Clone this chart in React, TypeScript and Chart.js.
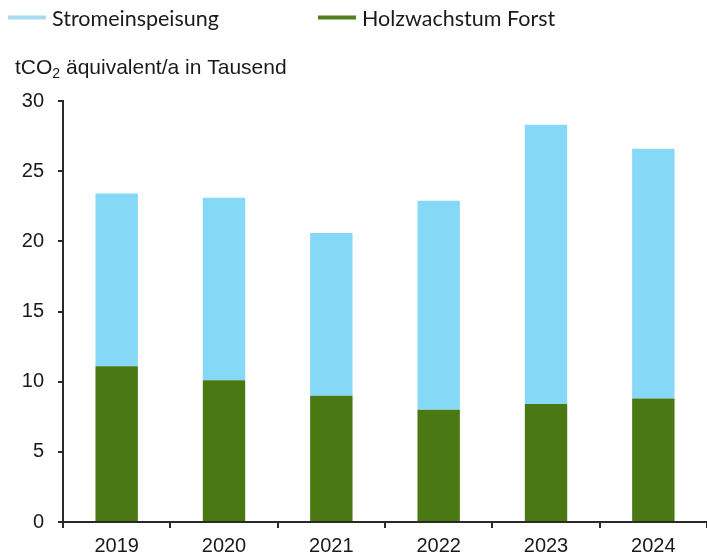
import React, { useEffect, useRef } from 'react';
import { Chart, registerables } from 'chart.js';

Chart.register(...registerables);

const years: string[] = ['2019', '2020', '2021', '2022', '2023', '2024'];
const holzwachstumForst: number[] = [11.1, 10.1, 9.0, 8.0, 8.4, 8.8];
const stromeinspeisung: number[] = [12.3, 13.0, 11.6, 14.9, 19.9, 17.8];
const yMin = 0;
const yMax = 30;
const yStep = 5;
const legendLabels: string[] = ['Stromeinspeisung', 'Holzwachstum Forst'];
const titleMain = 'tCO';
const titleSub = '2';
const titleRest = ' äquivalent/a in Tausend';

const BLUE = '#85d8f6';
const GREEN = '#4a7913';
const LEGEND_BLUE = '#a6dcf0';
const LEGEND_GREEN = '#527f1c';
const AXIS = '#2a2a2a';

const overlayPlugin = {
  id: 'overlay',
  afterDraw(chart: any) {
    const ctx = chart.ctx as CanvasRenderingContext2D;
    ctx.save();
    // legend
    const items = [
      { x: 8, color: LEGEND_BLUE, text: legendLabels[0] },
      { x: 318, color: LEGEND_GREEN, text: legendLabels[1] },
    ];
    items.forEach((it) => {
      ctx.fillStyle = it.color;
      ctx.fillRect(it.x, 15.5, 38, 4);
      ctx.fillStyle = '#1a1a1a';
      ctx.font = '21.5px Lato';
      ctx.textAlign = 'left';
      ctx.textBaseline = 'alphabetic';
      ctx.fillText(it.text, it.x + 44, 26);
    });
    // axis title
    ctx.fillStyle = '#1a1a1a';
    ctx.font = '21px "Liberation Sans"';
    let x = 15;
    ctx.fillText(titleMain, x, 74);
    x += ctx.measureText(titleMain).width;
    ctx.font = '14px "Liberation Sans"';
    ctx.fillText(titleSub, x, 78);
    x += ctx.measureText(titleSub).width;
    ctx.font = '21px "Liberation Sans"';
    ctx.fillText(titleRest, x, 74);
    ctx.restore();
  },
};

export default function App() {
  const ref = useRef<HTMLCanvasElement | null>(null);
  useEffect(() => {
    if (!ref.current) return;
    const chart = new Chart(ref.current, {
      type: 'bar',
      data: {
        labels: years,
        datasets: [
          {
            label: legendLabels[1],
            data: holzwachstumForst,
            backgroundColor: GREEN,
            borderWidth: 0,
          },
          {
            label: legendLabels[0],
            data: stromeinspeisung,
            backgroundColor: BLUE,
            borderWidth: 0,
          },
        ],
      },
      options: {
        animation: false,
        responsive: false,
        maintainAspectRatio: false,
        layout: { padding: { top: 101, right: -3, left: 0, bottom: 0 } },
        datasets: { bar: { categoryPercentage: 1, barPercentage: 0.395 } },
        plugins: {
          legend: { display: false },
          title: { display: false },
          tooltip: { enabled: false },
        },
        scales: {
          x: {
            stacked: true,
            offset: true,
            grid: {
              offset: true,
              drawOnChartArea: false,
              drawTicks: true,
              tickLength: 6,
              color: AXIS,
              lineWidth: 2,
            },
            border: { display: true, color: AXIS, width: 2 },
            ticks: {
              color: '#1a1a1a',
              font: { family: '"Liberation Sans"', size: 20 },
              padding: 6,
              maxRotation: 0,
            },
            afterFit(scale: any) {
              scale.height = 34;
            },
          },
          y: {
            stacked: true,
            min: yMin,
            max: yMax,
            grid: {
              drawOnChartArea: false,
              drawTicks: true,
              tickLength: 5,
              color: AXIS,
              lineWidth: 2,
            },
            border: { display: true, color: AXIS, width: 2 },
            ticks: {
              stepSize: yStep,
              color: '#1a1a1a',
              font: { family: '"Liberation Sans"', size: 20 },
              padding: 14,
            },
            afterFit(scale: any) {
              scale.width = 63;
            },
          },
        },
      },
      plugins: [overlayPlugin],
    });
    return () => chart.destroy();
  }, []);
  return (
    <div style={{ position: 'fixed', left: 0, top: 0, width: 707, height: 556, background: '#fff' }}>
      <canvas ref={ref} width={707} height={556} style={{ display: 'block' }} />
    </div>
  );
}
